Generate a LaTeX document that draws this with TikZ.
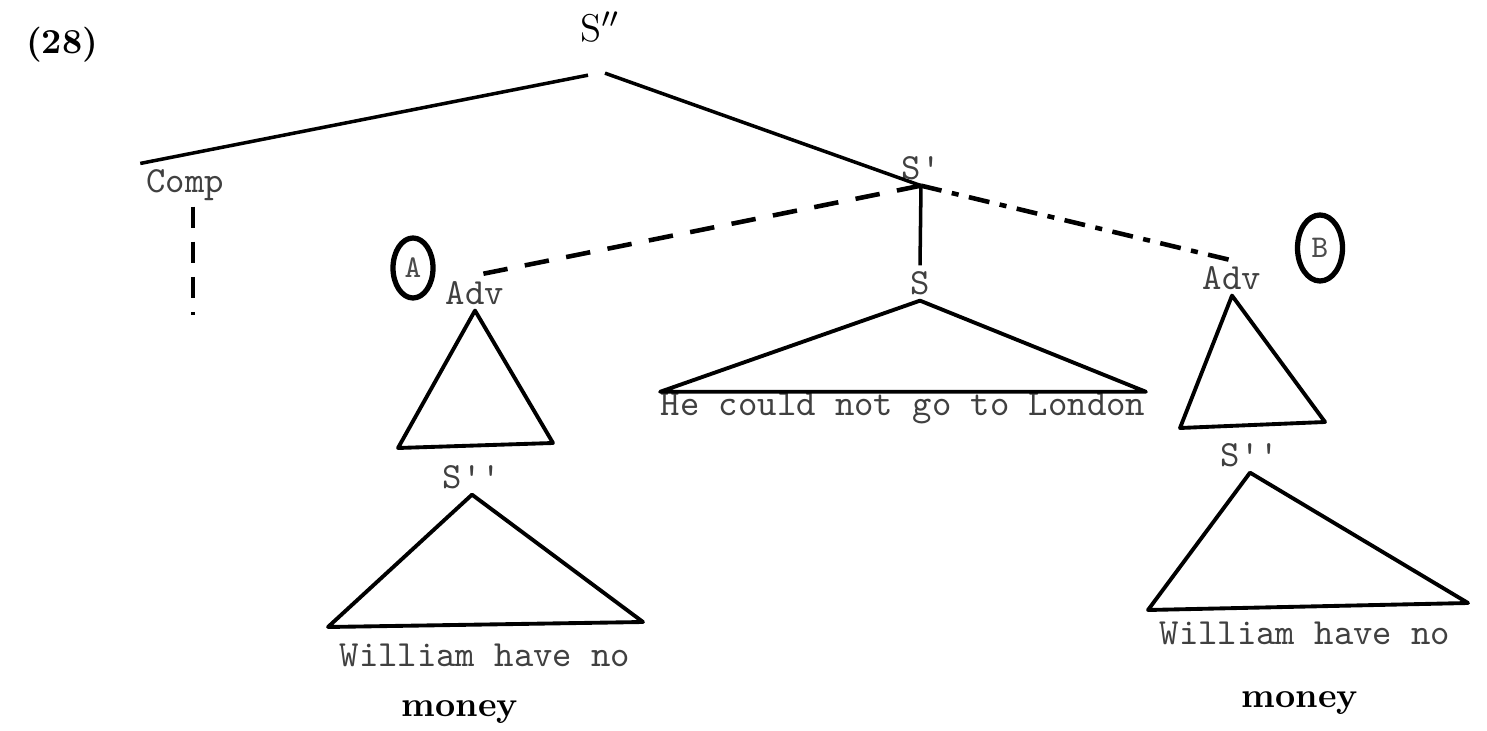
\documentclass[tikz,border=0pt]{standalone}
\usetikzlibrary{positioning, shapes.geometric, calc}

\begin{document}
\begin{tikzpicture}[
    every node/.style={inner sep=1.5pt},
    cat/.style={font=\fontsize{10.5}{12}\selectfont\ttfamily, text=black!75},
    words/.style={font=\fontsize{10.5}{12}\selectfont\ttfamily, text=black!75, inner sep=0pt},
    bold/.style={font=\fontsize{10}{12}\selectfont\bfseries},
    ring/.style={ellipse, draw, line width=1.5pt, minimum width=0.40cm, minimum height=0.60cm, inner sep=0pt, font=\fontsize{9}{10}\selectfont\ttfamily, text=black!70},
    branch/.style={line width=1pt},
    dashbranch/.style={line width=1.3pt, dash pattern=on 7pt off 5pt},
    tri/.style={line width=1.1pt, line join=round}]

  \useasboundingbox (0,0) rectangle (14.87,-7.31);

  \node[bold] (num) at (0.62,-0.45) {(28)};
  \node[font=\fontsize{11}{12}\selectfont] (top) at (6.00,-0.27) {S$''$};

  \node[cat] (comp) at (1.85,-1.85) {Comp};
  \coordinate (gap) at (1.93,-3.15);

  \node[cat] (sbar) at (9.21,-1.68) {S'};
  \node[cat] (s) at (9.20,-2.83) {S};
  \node[words] (wS) at (9.03,-4.08) {He could not go to London};

  \node[ring] (cA) at (4.13,-2.68) {A};
  \node[cat] (advl) at (4.75,-2.93) {Adv};
  \node[cat] (sddl) at (4.72,-4.77) {S''};
  \node[words] (wl) at (4.85,-6.55) {William have no};
  \node[bold] (ml) at (4.60,-7.12) {money};

  \node[ring, minimum width=0.45cm, minimum height=0.66cm] (cB) at (13.20,-2.48) {B};
  \node[cat] (advr) at (12.32,-2.78) {Adv};
  \node[cat] (sddr) at (12.50,-4.55) {S''};
  \node[words] (wr) at (13.05,-6.33) {William have no};
  \node[bold] (mr) at (13.00,-7.03) {money};

  \coordinate (al1) at (3.98,-4.48);
  \coordinate (al2) at (5.53,-4.43);
  \coordinate (sl1) at (3.28,-6.27);
  \coordinate (sl2) at (6.43,-6.22);
  \coordinate (ar1) at (11.80,-4.28);
  \coordinate (ar2) at (13.25,-4.22);
  \coordinate (sr1) at (11.48,-6.10);
  \coordinate (sr2) at (14.68,-6.03);

  \draw[branch] ($(top.south)+(-0.12,-0.27)$) -- (comp.north west);
  \draw[branch] ($(top.south)+(0.05,-0.25)$) -- (sbar.south);
  \draw[dashbranch, dash pattern=on 6pt off 4pt] (comp.south -| gap) -- (gap);

  \draw[branch] (sbar.south) -- (s.north);
  \draw[dashbranch] (sbar.south) -- (advl.north);
  \draw[dashbranch, dash pattern=on 6pt off 3pt on 2pt off 3pt] (sbar.south) -- (advr.north);

  \draw[tri] (s.south) -- (wS.north west) -- (wS.north east) -- cycle;
  \draw[tri] (advl.south) -- (al1) -- (al2) -- cycle;
  \draw[tri] (sddl.south) -- (sl1) -- (sl2) -- cycle;
  \draw[tri] (advr.south) -- (ar1) -- (ar2) -- cycle;
  \draw[tri] (sddr.south) -- (sr1) -- (sr2) -- cycle;
\end{tikzpicture}
\end{document}
